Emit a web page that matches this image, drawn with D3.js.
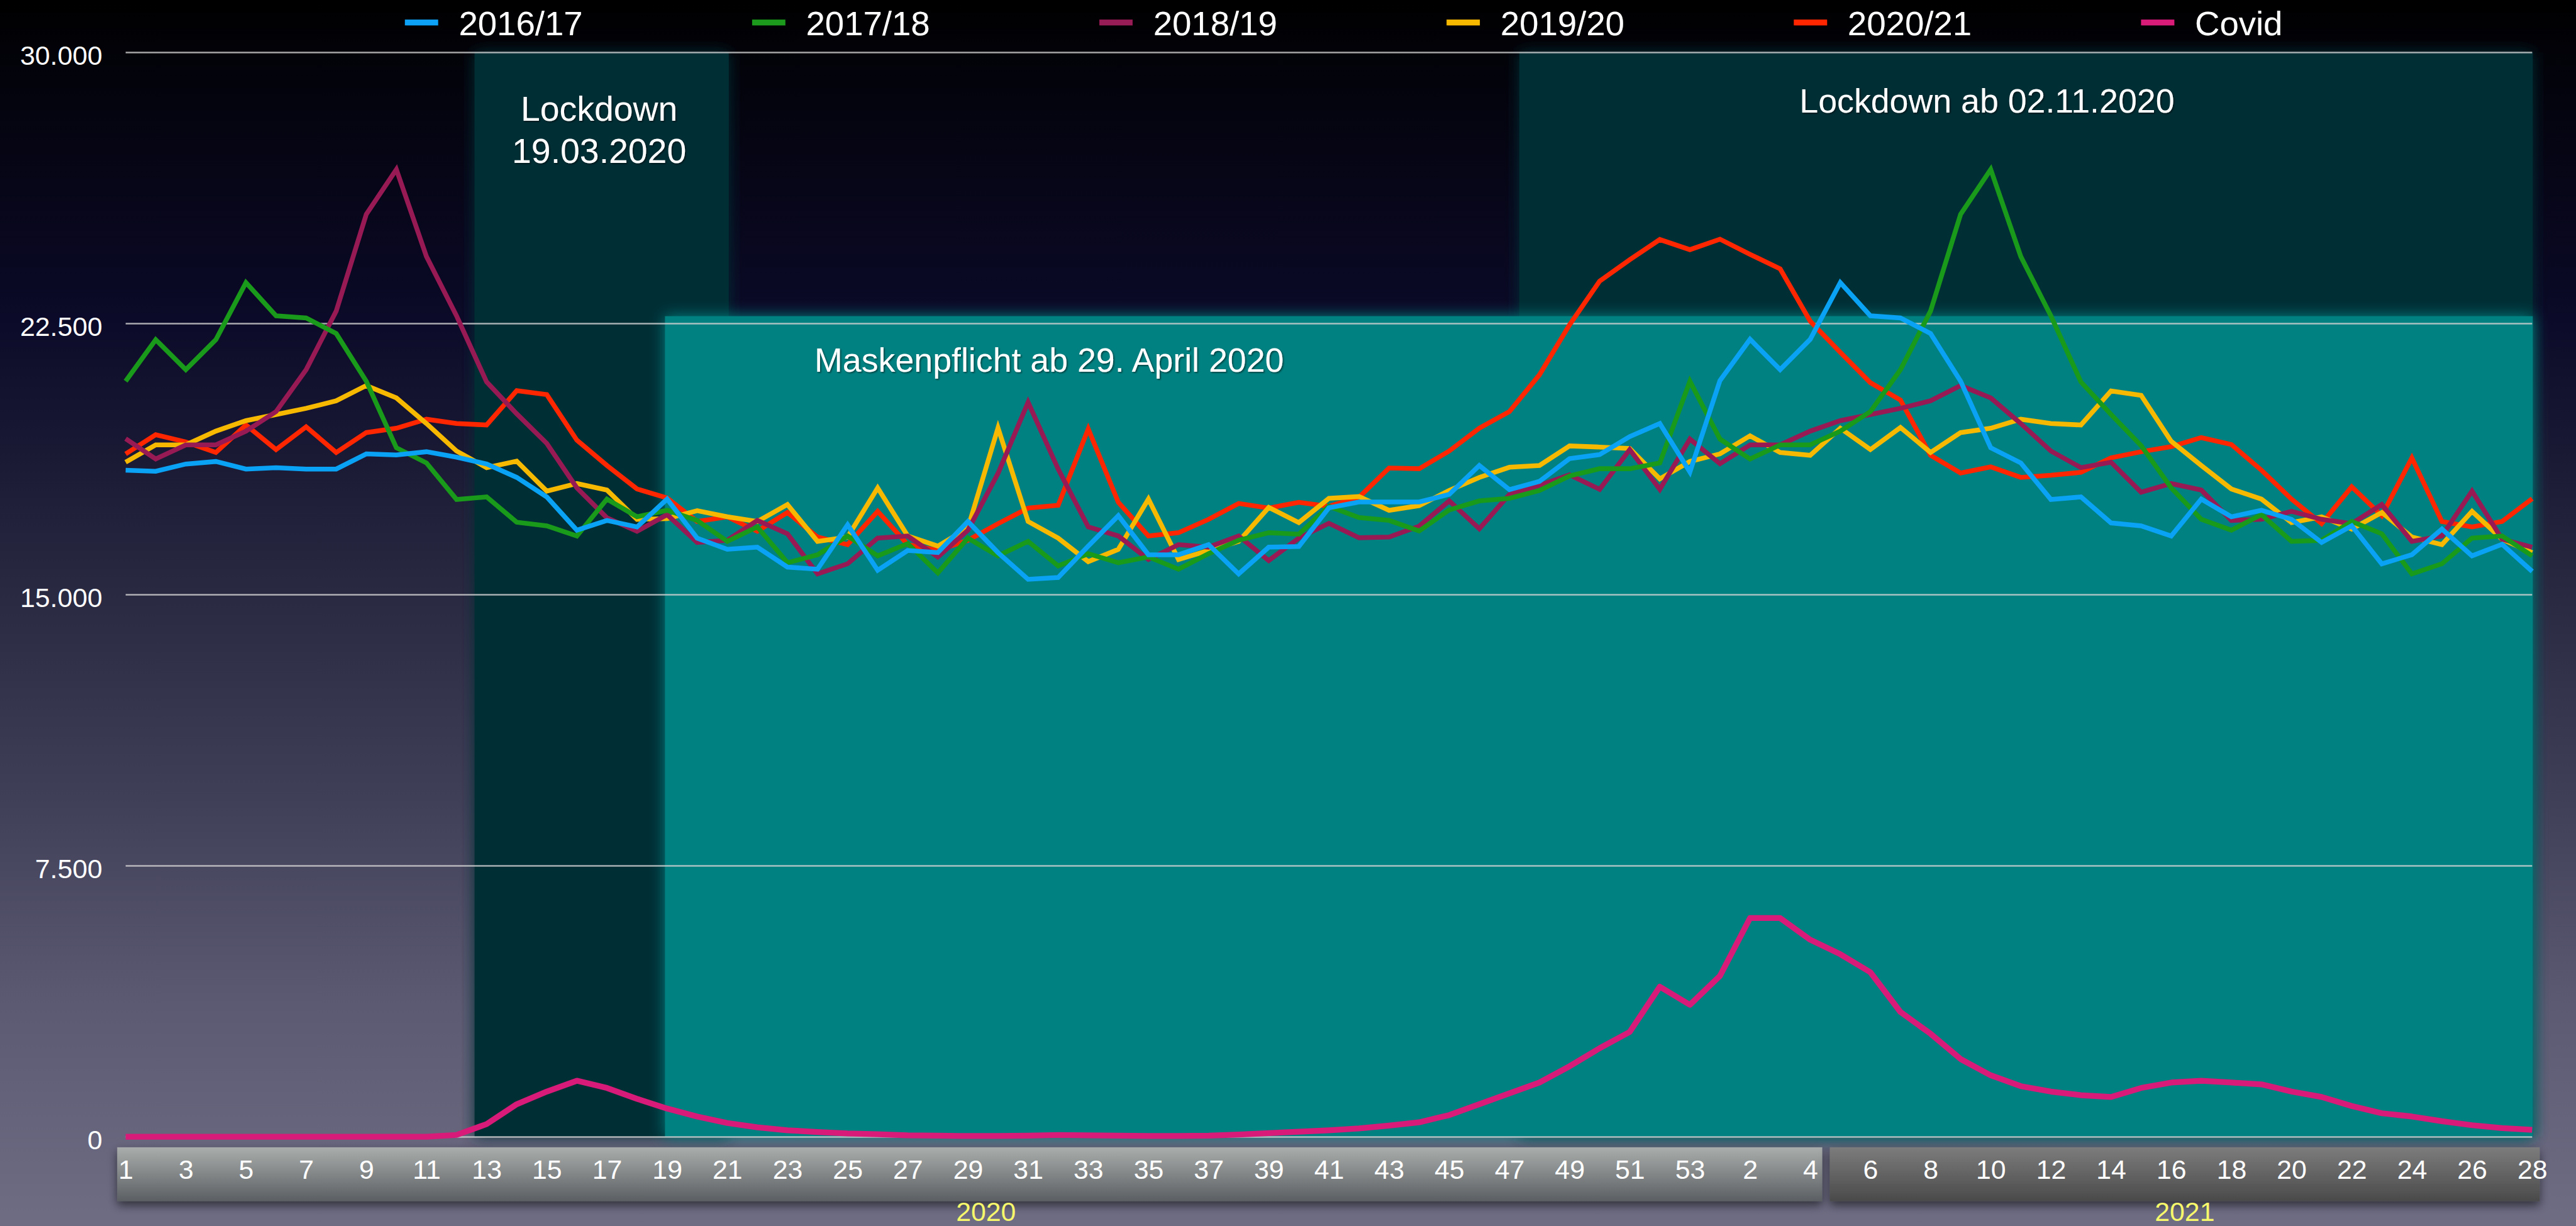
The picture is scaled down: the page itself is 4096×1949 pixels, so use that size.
<!DOCTYPE html>
<html lang="de">
  <head>
    <meta charset="UTF-8" />
    <title>Sterbefälle je Kalenderwoche</title>
    <style type="text/css">
      html,
      body {
        margin: 0;
        padding: 0;
        background: #000;
        overflow: hidden;
      }
      svg {
        display: block;
      }
    </style>
    <script src="https://cdn.jsdelivr.net/npm/d3@7"></script>
  </head>
  <body>
    <div class="d3Chart"></div>
    <script type="text/javascript">
      // data
      var seriesNames = ['2016/17', '2017/18', '2018/19', '2019/20', '2020/21', 'Covid']
      var colors = ['#0aa2f5', '#1a9a1a', '#981a55', '#f7b900', '#ff2600', '#d81b78']
      var weeks2020 = [1, 2, 3, 4, 5, 6, 7, 8, 9, 10, 11, 12, 13, 14, 15, 16, 17, 18, 19, 20, 21, 22, 23, 24, 25, 26, 27,
        28, 29, 30, 31, 32, 33, 34, 35, 36, 37, 38, 39, 40, 41, 42, 43, 44, 45, 46, 47, 48, 49, 50, 51, 52, 53]
      var weeks2021 = [1, 2, 3, 4, 5, 6, 7, 8, 9, 10, 11, 12, 13, 14, 15, 16, 17, 18, 19, 20, 21, 22, 23, 24, 25, 26, 27, 28]
      var years = ['2020', '2021']
      var yTicks = [0, 7500, 15000, 22500, 30000]
      var notes = ['Lockdown', '19.03.2020', 'Maskenpflicht ab 29. April 2020', 'Lockdown ab 02.11.2020']

      var s1617 = [18440, 18410, 18610, 18680, 18470, 18510, 18470, 18470, 18890, 18860, 18950, 18800, 18610, 18240,
        17700, 16780, 17050, 16870, 17640, 16560, 16250, 16310, 15760, 15700, 16930, 15670, 16220, 16160, 17020, 16160,
        15420, 15470, 16340, 17180, 16100, 16100, 16380, 15570, 16310, 16330, 17400, 17560, 17560, 17560, 17770, 18570,
        17900, 18130, 18760, 18870, 19370, 19730, 18390, 20920, 22060, 21220, 22060, 23630, 22710, 22650, 22220, 20900,
        19060, 18640, 17630, 17700, 16980, 16900, 16620, 17640, 17150, 17330, 17080, 16440, 16900, 15850, 16100, 16810,
        16070, 16390, 15640]
      var s1718 = [20900, 22050, 21220, 22050, 23630, 22710, 22650, 22220, 20900, 19060, 18640, 17630, 17700, 17000,
        16900, 16620, 17640, 17150, 17330, 17050, 16470, 16870, 15880, 16100, 16620, 16070, 16410, 15600, 16560, 16070,
        16470, 15790, 16130, 15880, 16040, 15700, 16130, 16500, 16710, 16670, 17440, 17130, 17050, 16760, 17340, 17590,
        17660, 17880, 18280, 18480, 18480, 18640, 20900, 19300, 18750, 19140, 19140, 19520, 20060, 21220, 22840, 25520,
        26760, 24350, 22710, 20880, 19980, 19120, 17950, 17080, 16780, 17210, 16470, 16500, 17020, 16680, 15570, 15850,
        16560, 16620, 16070]
      var s1819 = [19310, 18750, 19140, 19140, 19520, 20060, 21220, 22840, 25520, 26760, 24350, 22710, 20880, 20000,
        19180, 17950, 17120, 16750, 17210, 16440, 16500, 17050, 16680, 15570, 15850, 16560, 16620, 16040, 16780, 18350,
        20320, 18470, 16870, 16620, 15970, 16380, 16310, 16620, 15940, 16560, 16970, 16570, 16590, 16890, 17590, 16820,
        17770, 18020, 18310, 17910, 19010, 17910, 19300, 18620, 19140, 19140, 19520, 19810, 19980, 20150, 20360, 20780,
        20440, 19730, 18970, 18510, 18660, 17830, 18070, 17890, 17050, 17080, 17300, 17080, 16960, 17490, 16470, 16620,
        17860, 16530, 16310]
      var s1920 = [18660, 19140, 19140, 19520, 19810, 19980, 20150, 20360, 20780, 20440, 19730, 18970, 18510, 18690,
        17860, 18070, 17890, 17080, 17100, 17320, 17150, 17020, 17490, 16470, 16590, 17950, 16620, 16340, 16840, 19610,
        17020, 16560, 15910, 16250, 17640, 15970, 16220, 16470, 17410, 16990, 17660, 17710, 17330, 17460, 17880, 18240,
        18520, 18570, 19110, 19080, 19040, 18200, 18680, 18890, 19390, 18930, 18850, 19600, 19010, 19620, 18930, 19480,
        19600, 19850, 19730, 19690, 20630, 20510, 19240, 18570, 17920, 17640, 16990, 17150, 16810, 17270, 16590, 16380,
        17300, 16530, 16160]
      var s2021 = [18890, 19420, 19220, 18930, 19690, 19010, 19640, 18930, 19480, 19600, 19850, 19730, 19690, 20640,
        20530, 19270, 18570, 17920, 17670, 17020, 17150, 16750, 17270, 16590, 16380, 17300, 16380, 16220, 16500, 16960,
        17390, 17470, 19580, 17550, 16620, 16710, 17080, 17520, 17390, 17550, 17440, 17690, 18500, 18480, 18970, 19600,
        20060, 21080, 22460, 23670, 24260, 24820, 24540, 24830, 24410, 24010, 22560, 21700, 20860, 20380, 18850, 18360,
        18530, 18240, 18300, 18380, 18780, 18950, 19090, 19340, 19150, 18440, 17640, 16960, 17980, 17180, 18780, 17020,
        16870, 17020, 17650]
      var covid = [0, 0, 0, 0, 0, 0, 0, 0, 0, 0, 0, 50, 350, 900, 1250, 1550, 1350, 1050, 780, 560, 380, 260, 180, 130,
        90, 70, 40, 30, 20, 20, 30, 50, 40, 30, 20, 20, 30, 60, 100, 140, 180, 230, 310, 400, 600, 900, 1200, 1500, 1950,
        2450, 2900, 4150, 3650, 4450, 6050, 6050, 5450, 5050, 4550, 3450, 2850, 2150, 1700, 1400, 1250, 1150, 1100, 1350,
        1500, 1550, 1500, 1450, 1250, 1100, 850, 650, 560, 430, 320, 240, 190]

      var seriesData = [s1617, s1718, s1819, s1920, s2021, covid]
      var weeks = weeks2020.concat(weeks2021)

      // layout (reference pixels, scaled down by the viewBox)
      var chartW = 4880
      var chartH = 2322
      var plotLeft = 238
      var plotRight = 4797
      var plotTop = 99
      var plotBottom = 2153
      var font = "'Liberation Sans', Arial, Helvetica, sans-serif"

      var svg = d3
        .select('.d3Chart')
        .append('svg')
        .attr('width', 4096)
        .attr('height', 1949)
        .attr('viewBox', '0 0 ' + chartW + ' ' + chartH)

      var defs = svg.append('defs')

      // background
      var bg = defs.append('linearGradient').attr('id', 'bg').attr('x1', 0).attr('y1', 0).attr('x2', 0).attr('y2', 1)
      ;[
        [0, '#000000'],
        [0.04, '#020208'],
        [0.26, '#0b0a28'],
        [0.46, '#27263f'],
        [0.65, '#403f58'],
        [0.82, '#5b5a72'],
        [1, '#6e6d84']
      ].forEach(function (s) {
        bg.append('stop').attr('offset', s[0]).attr('stop-color', s[1])
      })

      var barLight = defs.append('linearGradient').attr('id', 'barLight').attr('x1', 0).attr('y1', 0).attr('x2', 0).attr('y2', 1)
      barLight.append('stop').attr('offset', 0).attr('stop-color', '#a9adab')
      barLight.append('stop').attr('offset', 1).attr('stop-color', '#5b5f63')
      var barDark = defs.append('linearGradient').attr('id', 'barDark').attr('x1', 0).attr('y1', 0).attr('x2', 0).attr('y2', 1)
      barDark.append('stop').attr('offset', 0).attr('stop-color', '#7c7c7c')
      barDark.append('stop').attr('offset', 1).attr('stop-color', '#4a4a4a')

      // glow round the shaded periods
      var glow = defs.append('filter').attr('id', 'glow').attr('x', '-5%').attr('y', '-10%').attr('width', '110%').attr('height', '120%')
      glow.append('feGaussianBlur').attr('in', 'SourceGraphic').attr('stdDeviation', 14).attr('result', 'b')
      var gm = glow.append('feMerge')
      gm.append('feMergeNode').attr('in', 'b')
      gm.append('feMergeNode').attr('in', 'SourceGraphic')

      var shadow = defs.append('filter').attr('id', 'shadow').attr('x', '-5%').attr('y', '-30%').attr('width', '110%').attr('height', '160%')
      shadow.append('feDropShadow').attr('dx', 0).attr('dy', 8).attr('stdDeviation', 9).attr('flood-color', '#000').attr('flood-opacity', 0.55)

      var textShadow = defs.append('filter').attr('id', 'textShadow')
      textShadow.append('feDropShadow').attr('dx', 2).attr('dy', 2).attr('stdDeviation', 1).attr('flood-color', '#000').attr('flood-opacity', 0.5)

      svg.append('rect').attr('width', chartW).attr('height', chartH).attr('fill', 'url(#bg)')

      // scales
      var x = d3.scaleLinear().domain([0, weeks.length - 1]).range([plotLeft, plotRight])
      var y = d3.scaleLinear().domain([0, 30000]).range([plotBottom, plotTop])

      // shaded periods (week index units)
      var periods = [
        { from: 11.6, to: 20.05, top: 30000, fill: '#002f34' },
        { from: 46.33, to: 80.02, top: 30000, fill: '#002f34' },
        { from: 17.93, to: 80.02, top: 22700, fill: '#008181' }
      ]
      svg
        .append('g')
        .selectAll('rect')
        .data(periods)
        .enter()
        .append('rect')
        .attr('x', (d) => x(d.from))
        .attr('width', (d) => x(d.to) - x(d.from))
        .attr('y', (d) => y(d.top))
        .attr('height', (d) => y(0) - y(d.top))
        .attr('fill', (d) => d.fill)
        .attr('filter', 'url(#glow)')

      // y axis + grid
      var de = d3.formatLocale({ decimal: ',', thousands: '.', grouping: [3], currency: ['', ' €'] })
      var yAxis = d3
        .axisLeft(y)
        .tickValues(yTicks)
        .tickSize(-(plotRight - plotLeft))
        .tickPadding(44)
        .tickFormat(de.format(','))
      svg
        .append('g')
        .attr('transform', 'translate(' + plotLeft + ',0)')
        .call(yAxis)
        .attr('font-family', font)
        .attr('font-size', 51)
        .call((g) => g.select('.domain').remove())
        .call((g) => g.selectAll('.tick line').attr('stroke', '#d2d2d2').attr('stroke-width', 3).attr('stroke-opacity', 0.8))
        .call((g) => g.selectAll('.tick text').attr('fill', '#fff').attr('dy', '0.45em'))

      // notes
      var noteG = svg.append('g').attr('font-family', font).attr('fill', '#fff').attr('filter', 'url(#textShadow)')
      noteG.append('text').attr('x', 1135).attr('y', 229).attr('font-size', 66).attr('text-anchor', 'middle').text(notes[0])
      noteG.append('text').attr('x', 1135).attr('y', 308).attr('font-size', 66).attr('text-anchor', 'middle').text(notes[1])
      noteG.append('text').attr('x', 1543).attr('y', 704).attr('font-size', 64).text(notes[2])
      noteG.append('text').attr('x', 3409).attr('y', 213).attr('font-size', 64).text(notes[3])

      // x axis bars
      var barTop = 2173
      var barH = 102
      svg
        .append('rect')
        .attr('x', x(-0.28))
        .attr('width', x(56.4) - x(-0.28))
        .attr('y', barTop)
        .attr('height', barH)
        .attr('fill', 'url(#barLight)')
        .attr('filter', 'url(#shadow)')
      svg
        .append('rect')
        .attr('x', x(56.65))
        .attr('width', x(80.25) - x(56.65))
        .attr('y', barTop)
        .attr('height', barH)
        .attr('fill', 'url(#barDark)')
        .attr('filter', 'url(#shadow)')

      var xAxis = d3
        .axisBottom(x)
        .tickValues(d3.range(0, weeks.length, 2))
        .tickSize(0)
        .tickPadding(0)
        .tickFormat((i) => weeks[i])
      svg
        .append('g')
        .attr('transform', 'translate(0,2197)')
        .call(xAxis)
        .attr('font-family', font)
        .attr('font-size', 51)
        .call((g) => g.select('.domain').remove())
        .call((g) => g.selectAll('.tick text').attr('fill', '#fff'))

      var yearPos = [28.6, 68.45]
      svg
        .append('g')
        .selectAll('text')
        .data(years)
        .enter()
        .append('text')
        .attr('x', (d, i) => x(yearPos[i]))
        .attr('y', 2312)
        .attr('text-anchor', 'middle')
        .attr('font-family', font)
        .attr('font-size', 51)
        .attr('fill', '#f7f76c')
        .text((d) => d)

      // lines, drawn so that 2016/17 ends on top
      var line = d3
        .line()
        .x((d, i) => x(i))
        .y((d) => y(d))
      var order = [5, 4, 3, 2, 1, 0]
      svg
        .append('g')
        .attr('fill', 'none')
        .selectAll('path')
        .data(order)
        .enter()
        .append('path')
        .attr('stroke', (k) => colors[k])
        .attr('stroke-width', (k) => (k === 5 ? 11 : 9))
        .attr('stroke-linejoin', (k) => (k === 5 ? 'round' : 'miter'))
        .attr('d', (k) => line(seriesData[k]))

      // legend
      var legend = svg
        .append('g')
        .selectAll('g')
        .data(seriesNames)
        .enter()
        .append('g')
        .attr('transform', (d, i) => 'translate(' + (767 + 657.8 * i) + ',0)')
      legend
        .append('rect')
        .attr('y', 37)
        .attr('width', 63)
        .attr('height', 11)
        .attr('fill', (d, i) => colors[i])
        .attr('filter', 'url(#textShadow)')
      legend
        .append('text')
        .attr('x', 102)
        .attr('y', 67)
        .attr('font-family', font)
        .attr('font-size', 65)
        .attr('fill', '#fff')
        .attr('filter', 'url(#textShadow)')
        .text((d) => d)
    </script>
  </body>
</html>
